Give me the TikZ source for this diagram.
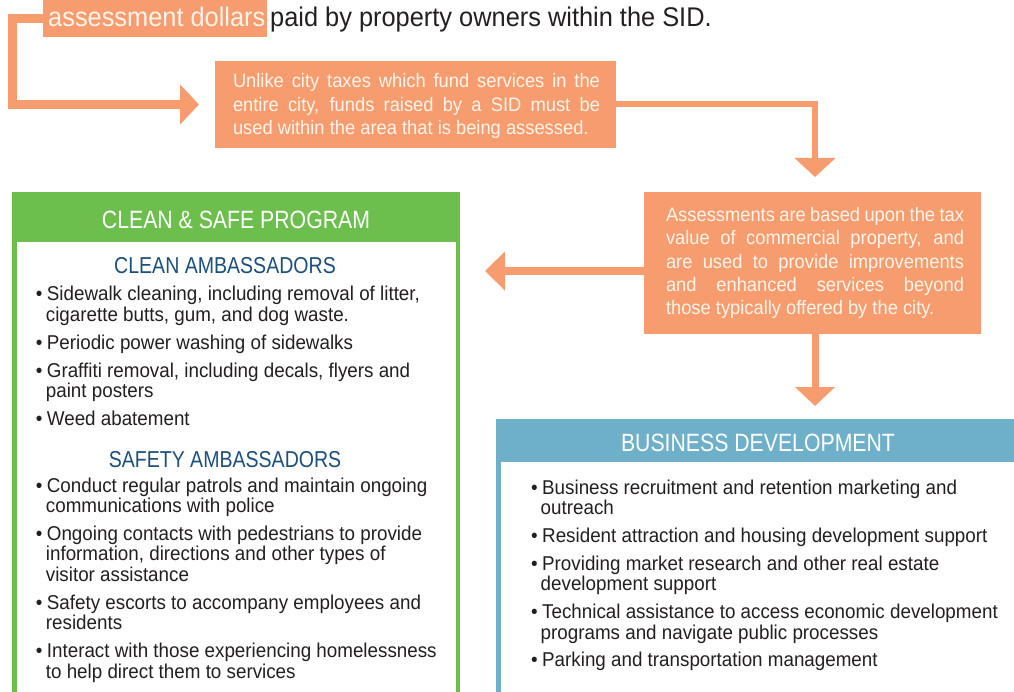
\documentclass[tikz,border=0pt]{standalone}
\usepackage{fontspec}
\setmainfont{Liberation Sans}[FakeStretch=0.94]
\newfontfamily\hdf{Liberation Sans}[FakeStretch=0.85]
\usetikzlibrary{arrows.meta}
\definecolor{corange}{HTML}{F79C6E}
\definecolor{cgreen}{HTML}{6CBF4D}
\definecolor{cblue}{HTML}{6EB0C9}
\definecolor{cnavy}{HTML}{1D4F7C}
\definecolor{ctext}{HTML}{231F20}
\definecolor{ccream}{HTML}{FFF5EC}
\newcommand{\bul}{\llap{\textbullet\hspace{4.5pt}}}
\begin{document}
\begin{tikzpicture}[x=1pt,y=-1pt,
  fillbox/.style={inner sep=0, outer sep=0, draw=none},
  frame/.style={inner sep=0, outer sep=0, fill=white, anchor=north west},
  conn/.style={draw=corange},
  boxtext/.style={text=ccream, inner sep=0, text width=#1, align=justify, font=\fontsize{19.5}{23.4}\selectfont},
  li/.style={anchor=base west, inner sep=0, text=ctext, font=\fontsize{20}{20.5}\selectfont},
  subhead/.style={anchor=base, inner sep=0, text=cnavy, font=\hdf\fontsize{23}{25}\selectfont},
  head/.style={anchor=base, inner sep=0, text=white, font=\hdf\fontsize{25}{28}\selectfont},
]
\useasboundingbox (0,0) rectangle (1014,692);

% top line
\node[fillbox, fill=corange, minimum width=224, minimum height=37] (ad) at (155,18.5) {};
\node[anchor=base west, inner sep=0, text=ccream, font=\fontsize{27}{30}\selectfont] (adt) at (48,27) {assessment dollars};
\node[anchor=base west, inner sep=0, text=ctext, font=\fontsize{27}{30}\selectfont] (pd) at (270,27) {paid by property owners within the SID.};

% orange boxes
\node[fillbox, fill=corange, minimum width=401, minimum height=87] (mid) at (415.5,104.5) {};
\node[boxtext=367pt] (midt) at (416.5,106.3) {Unlike city taxes which fund services in the\linebreak entire city, funds raised by a SID must be\linebreak used within the area that is being assessed.};

\node[fillbox, fill=corange, minimum width=337, minimum height=142] (rb) at (812.5,263) {};
\node[boxtext=298pt] (rbt) at (815,263.1) {Assessments are based upon the tax\linebreak value of commercial property, and\linebreak are used to provide improvements\linebreak and enhanced services beyond\linebreak those typically offered by the city.};

% connectors
\coordinate (tipA) at (199,104.5);
\coordinate (tipC) at (815,177);
\coordinate (tipL) at (485,271);
\coordinate (tipB) at (815,406);
\draw[conn, line width=9pt, -{Triangle[width=39pt,length=19pt]}] (ad.west) -- ++(-31,0) |- (tipA);
\draw[conn, line width=6pt, -{Triangle[width=40pt,length=19pt]}] (mid.east) -| (tipC);
\draw[conn, line width=8pt, -{Triangle[width=38pt,length=20pt]}] (rb.west |- tipL) -- (tipL);
\draw[conn, line width=7pt, -{Triangle[width=39pt,length=19pt]}] (rb.south -| tipB) -- (tipB);

% clean & safe box
\node[frame, draw=cgreen, line width=4.5pt, minimum width=443.5, minimum height=600] (gb) at (14.25,194.25) {};
\node[fillbox, fill=cgreen, anchor=north west, minimum width=448, minimum height=50] (gh) at (12,192) {};
\node[head] (ght) at (236,228.3) {CLEAN \& SAFE PROGRAM};
\node[subhead] (cat) at (225,274) {CLEAN AMBASSADORS};
\node[li] (c1a) at (46.7,301) {\bul Sidewalk cleaning, including removal of litter,};
\node[li] (c1b) at (45.7,321.5) {cigarette butts, gum, and dog waste.};
\node[li] (c2) at (46.7,349) {\bul Periodic power washing of sidewalks};
\node[li] (c3a) at (46.7,377) {\bul Graffiti removal, including decals, flyers and};
\node[li] (c3b) at (45.7,397.5) {paint posters};
\node[li] (c4) at (46.7,425.5) {\bul Weed abatement};
\node[subhead] (sat) at (225,467) {SAFETY AMBASSADORS};
\node[li] (s1a) at (46.7,492) {\bul Conduct regular patrols and maintain ongoing};
\node[li] (s1b) at (45.7,512.5) {communications with police};
\node[li] (s2a) at (46.7,540) {\bul Ongoing contacts with pedestrians to provide};
\node[li] (s2b) at (45.7,560.5) {information, directions and other types of};
\node[li] (s2c) at (45.7,581) {visitor assistance};
\node[li] (s3a) at (46.7,609) {\bul Safety escorts to accompany employees and};
\node[li] (s3b) at (45.7,629.5) {residents};
\node[li] (s4a) at (46.7,657.5) {\bul Interact with those experiencing homelessness};
\node[li] (s4b) at (45.7,678) {to help direct them to services};

% business development box
\node[frame, draw=cblue, line width=5pt, minimum width=600, minimum height=400] (bd) at (498.5,421.5) {};
\node[fillbox, fill=cblue, anchor=north west, minimum width=600, minimum height=43] (bh) at (496,419) {};
\node[head] (bht) at (758,451) {BUSINESS DEVELOPMENT};
\node[li] (b1a) at (542,494) {\bul Business recruitment and retention marketing and};
\node[li] (b1b) at (540.5,514.5) {outreach};
\node[li] (b2) at (542,542.5) {\bul Resident attraction and housing development support};
\node[li] (b3a) at (542,570) {\bul Providing market research and other real estate};
\node[li] (b3b) at (540.5,590.5) {development support};
\node[li] (b4a) at (542,618.5) {\bul Technical assistance to access economic development};
\node[li] (b4b) at (540.5,639) {programs and navigate public processes};
\node[li] (b5) at (542,666.5) {\bul Parking and transportation management};
\end{tikzpicture}
\end{document}
